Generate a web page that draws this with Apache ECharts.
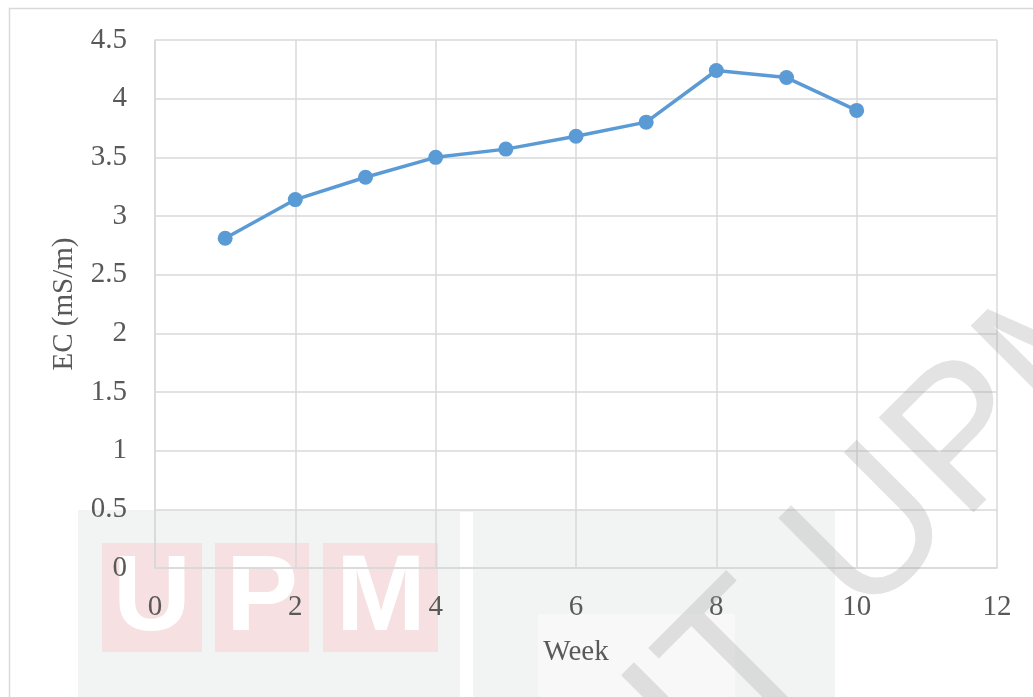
<!DOCTYPE html>
<html>
<head>
<meta charset="utf-8">
<script src="https://cdn.jsdelivr.net/npm/echarts@6/dist/echarts.min.js"></script>
<style>
  html, body { margin: 0; padding: 0; background: #fff; }
  #chart { width: 1033px; height: 697px; }
</style>
</head>
<body>
<div id="chart"></div>
<script>
var weeks = [1, 2, 3, 4, 5, 6, 7, 8, 9, 10];
var ecValues = [2.81, 3.14, 3.33, 3.50, 3.57, 3.68, 3.80, 4.24, 4.18, 3.90];
var xName = 'Week';
var yName = 'EC (mS/m)';

var points = [];
for (var i = 0; i < weeks.length; i++) {
    points.push([weeks[i], ecValues[i]]);
}

var textColor = '#595959';
var gridColor = '#d9d9d9';
var serif = '"Liberation Serif", "Times New Roman", serif';

var myChart = echarts.init(document.getElementById('chart'));
var option = {
    backgroundColor: '#fff',
    animation: false,
    grid: { left: 155, right: 36, top: 40, bottom: 129 },
    xAxis: {
        type: 'value',
        min: 0, max: 12, interval: 2,
        name: xName,
        nameLocation: 'middle',
        nameGap: 70,
        nameTextStyle: { color: textColor, fontSize: 29, fontFamily: serif },
        axisLine: { show: true, lineStyle: { color: gridColor, width: 1.5 } },
        axisTick: { show: false },
        axisLabel: { color: textColor, fontSize: 29, fontFamily: serif, margin: 25 },
        splitLine: { show: true, lineStyle: { color: gridColor, width: 1.5 } }
    },
    yAxis: {
        type: 'value',
        min: 0, max: 4.5, interval: 0.5,
        name: yName,
        nameLocation: 'middle',
        nameGap: 76,
        nameTextStyle: { color: textColor, fontSize: 29, fontFamily: serif },
        axisLine: { show: true, lineStyle: { color: gridColor, width: 1.5 } },
        axisTick: { show: false },
        axisLabel: { color: textColor, fontSize: 29, fontFamily: serif, margin: 28 },
        splitLine: { show: true, lineStyle: { color: gridColor, width: 1.5 } }
    },
    series: [{
        type: 'line',
        data: points,
        symbol: 'circle',
        symbolSize: 15,
        lineStyle: { color: '#5b9bd5', width: 3.5 },
        itemStyle: { color: '#5b9bd5' }
    }],
    graphic: [
        // chart frame
        { type: 'rect', z: -5, shape: { x: 9.5, y: 8.5, width: 1040, height: 700 },
          style: { fill: 'none', stroke: '#d9d9d9', lineWidth: 1.5 } },
        // watermark logo
        { type: 'rect', z: -4, shape: { x: 78, y: 510, width: 757, height: 200 },
          style: { fill: '#f2f3f3' } },
        { type: 'rect', z: -3, shape: { x: 460, y: 512, width: 13, height: 200 },
          style: { fill: '#ffffff' } },
        { type: 'rect', z: -3, shape: { x: 538, y: 614, width: 197, height: 100 },
          style: { fill: '#f8f8f8' } },
        { type: 'rect', z: -3, shape: { x: 102, y: 543, width: 100, height: 109 },
          style: { fill: '#f6e0e2' } },
        { type: 'rect', z: -3, shape: { x: 215, y: 543, width: 94, height: 109 },
          style: { fill: '#f6e0e2' } },
        { type: 'rect', z: -3, shape: { x: 323, y: 543, width: 115, height: 109 },
          style: { fill: '#f6e0e2' } },
        { type: 'text', z: -2, x: 152, y: 600,
          style: { text: 'U', fill: '#ffffff', font: 'bold 108px "Liberation Sans", Arial, sans-serif', align: 'center', verticalAlign: 'middle' } },
        { type: 'text', z: -2, x: 262, y: 600,
          style: { text: 'P', fill: '#ffffff', font: 'bold 108px "Liberation Sans", Arial, sans-serif', align: 'center', verticalAlign: 'middle' } },
        { type: 'text', z: -2, x: 381, y: 600,
          style: { text: 'M', fill: '#ffffff', font: 'bold 108px "Liberation Sans", Arial, sans-serif', align: 'center', verticalAlign: 'middle' } },
        // diagonal watermark text
        { type: 'text', z: 100, x: 1131, y: 279, rotation: Math.PI / 4,
          style: { text: 'COPYRIGHT UPM', fill: 'rgba(170,170,170,0.33)', font: '195px "Liberation Sans", Arial, sans-serif', align: 'right', verticalAlign: 'middle' } }
    ]
};
myChart.setOption(option);
</script>
</body>
</html>
